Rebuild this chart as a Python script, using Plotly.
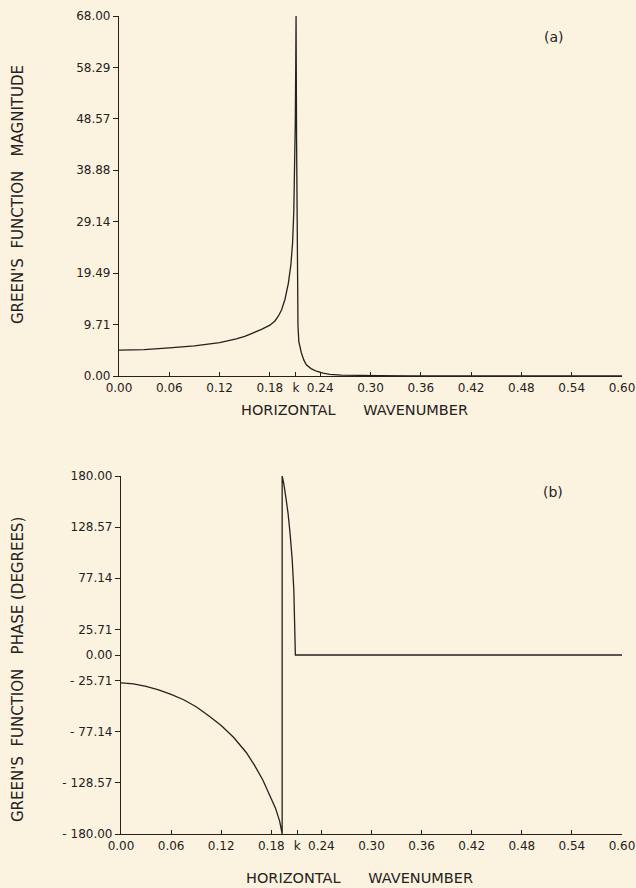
import plotly.graph_objects as go
from plotly.subplots import make_subplots

# ---- data ----
mag_k = [0.0, 0.03, 0.06, 0.09, 0.12, 0.14, 0.15, 0.16, 0.17, 0.18, 0.186, 0.19, 0.194,
         0.198, 0.202, 0.205, 0.207, 0.2085, 0.2095, 0.2103, 0.2108, 0.2112, 0.2118,
         0.2125, 0.2135, 0.2145, 0.216, 0.2175, 0.2205, 0.2235, 0.229, 0.2355, 0.2435,
         0.2515, 0.265, 0.28, 0.31, 0.35, 0.45, 0.60]
mag_v = [4.9, 5.0, 5.3, 5.7, 6.3, 7.0, 7.5, 8.1, 8.8, 9.6, 10.4, 11.3, 12.5,
         14.5, 17.5, 21.0, 25.0, 31.0, 38.0, 48.0, 58.0, 68.0, 45.0,
         22.0, 9.5, 6.5, 5.2, 4.4, 3.0, 2.1, 1.4, 0.9, 0.55,
         0.3, 0.18, 0.1, 0.06, 0.03, 0.01, 0.0]

phase_k = [0.0, 0.015, 0.03, 0.045, 0.06, 0.075, 0.09, 0.105, 0.12, 0.135, 0.15, 0.16,
           0.17, 0.178, 0.185, 0.19, 0.193,
           0.193, 0.195, 0.1975, 0.2, 0.2025, 0.205, 0.207, 0.208, 0.2086, 0.2088, 0.60]
phase_v = [-28, -29, -31.5, -35, -39.5, -45, -52, -61, -71, -83, -98, -111,
           -126, -140, -154, -167, -180,
           180, 172, 158, 143, 122, 96, 65, 40, 15, 0, 0]

x_tickvals = [0.0, 0.06, 0.12, 0.18, 0.211, 0.24, 0.30, 0.36, 0.42, 0.48, 0.54, 0.60]
x_ticktext = ["0.00", "0.06", "0.12", "0.18", "k", "0.24", "0.30", "0.36", "0.42", "0.48", "0.54", "0.60"]

mag_tickvals = [0, 68/7, 2*68/7, 3*68/7, 4*68/7, 5*68/7, 6*68/7, 68]
mag_ticktext = ["0.00", "9.71", "19.49", "29.14", "38.88", "48.57", "58.29", "68.00"]

ph_tickvals = [-180, -128.57, -77.14, -25.71, 0, 25.71, 77.14, 128.57, 180]
ph_ticktext = ["- 180.00", "- 128.57", "- 77.14", "- 25.71", "0.00", "25.71", "77.14", "128.57", "180.00"]

W, H = 636, 888
BG = "#fbf3df"
INK = "#25211d"
FONT = "DejaVu Sans"

fig = make_subplots(rows=2, cols=1)
fig.add_trace(go.Scatter(x=mag_k, y=mag_v, mode="lines",
                         line=dict(color=INK, width=1.3), showlegend=False), row=1, col=1)
fig.add_trace(go.Scatter(x=phase_k, y=phase_v, mode="lines",
                         line=dict(color=INK, width=1.3), showlegend=False), row=2, col=1)

axis_common = dict(showgrid=False, zeroline=False, showline=True, linecolor=INK, linewidth=1.2,
                   tickcolor=INK, tickfont=dict(family=FONT, size=12, color=INK), mirror=False,
                   automargin=False)

fig.update_layout(
    width=W, height=H, paper_bgcolor=BG, plot_bgcolor=BG,
    margin=dict(l=0, r=0, t=0, b=0, autoexpand=False),
    xaxis=dict(domain=[119 / W, 622 / W], range=[0, 0.6], tickmode="array", tickvals=x_tickvals,
               ticktext=x_ticktext, ticks="inside", ticklen=4, anchor="y", **axis_common),
    yaxis=dict(domain=[1 - 376 / H, 1 - 16 / H], range=[0, 68], tickmode="array",
               tickvals=mag_tickvals, ticktext=mag_ticktext, ticks="outside", ticklen=5,
               anchor="x", **axis_common),
    xaxis2=dict(domain=[121 / W, 622 / W], range=[0, 0.6], tickmode="array", tickvals=x_tickvals,
                ticktext=x_ticktext, ticks="inside", ticklen=4, anchor="y2", **axis_common),
    yaxis2=dict(domain=[1 - 834 / H, 1 - 476 / H], range=[-180, 180], tickmode="array",
                tickvals=ph_tickvals, ticktext=ph_ticktext, ticks="outside", ticklen=5,
                anchor="x2", **axis_common),
)

def ann(text, xp, yp, size=12, angle=0, yanchor="middle"):
    fig.add_annotation(text=text, x=xp / W, y=1 - yp / H, xref="paper", yref="paper",
                       xanchor="center", yanchor=yanchor,
                       showarrow=False, textangle=angle,
                       font=dict(family=FONT, size=size, color=INK))

sp = "&nbsp;"
ann("HORIZONTAL" + sp * 6 + "WAVENUMBER", 354, 410, 14.5)
ann("HORIZONTAL" + sp * 6 + "WAVENUMBER", 359, 888, 14.5, yanchor="bottom")
ann("GREEN'S" + sp * 2 + "FUNCTION" + sp * 3 + "MAGNITUDE", 18, 195, 15, -90)
ann("GREEN'S" + sp * 2 + "FUNCTION" + sp * 3 + "PHASE (DEGREES)", 18, 670, 15, -90)
ann("(a)", 554, 37, 14)
ann("(b)", 553, 492, 14)

fig.write_html("out.html", config={"displayModeBar": False},
               post_script="document.body.style.margin='0';")
